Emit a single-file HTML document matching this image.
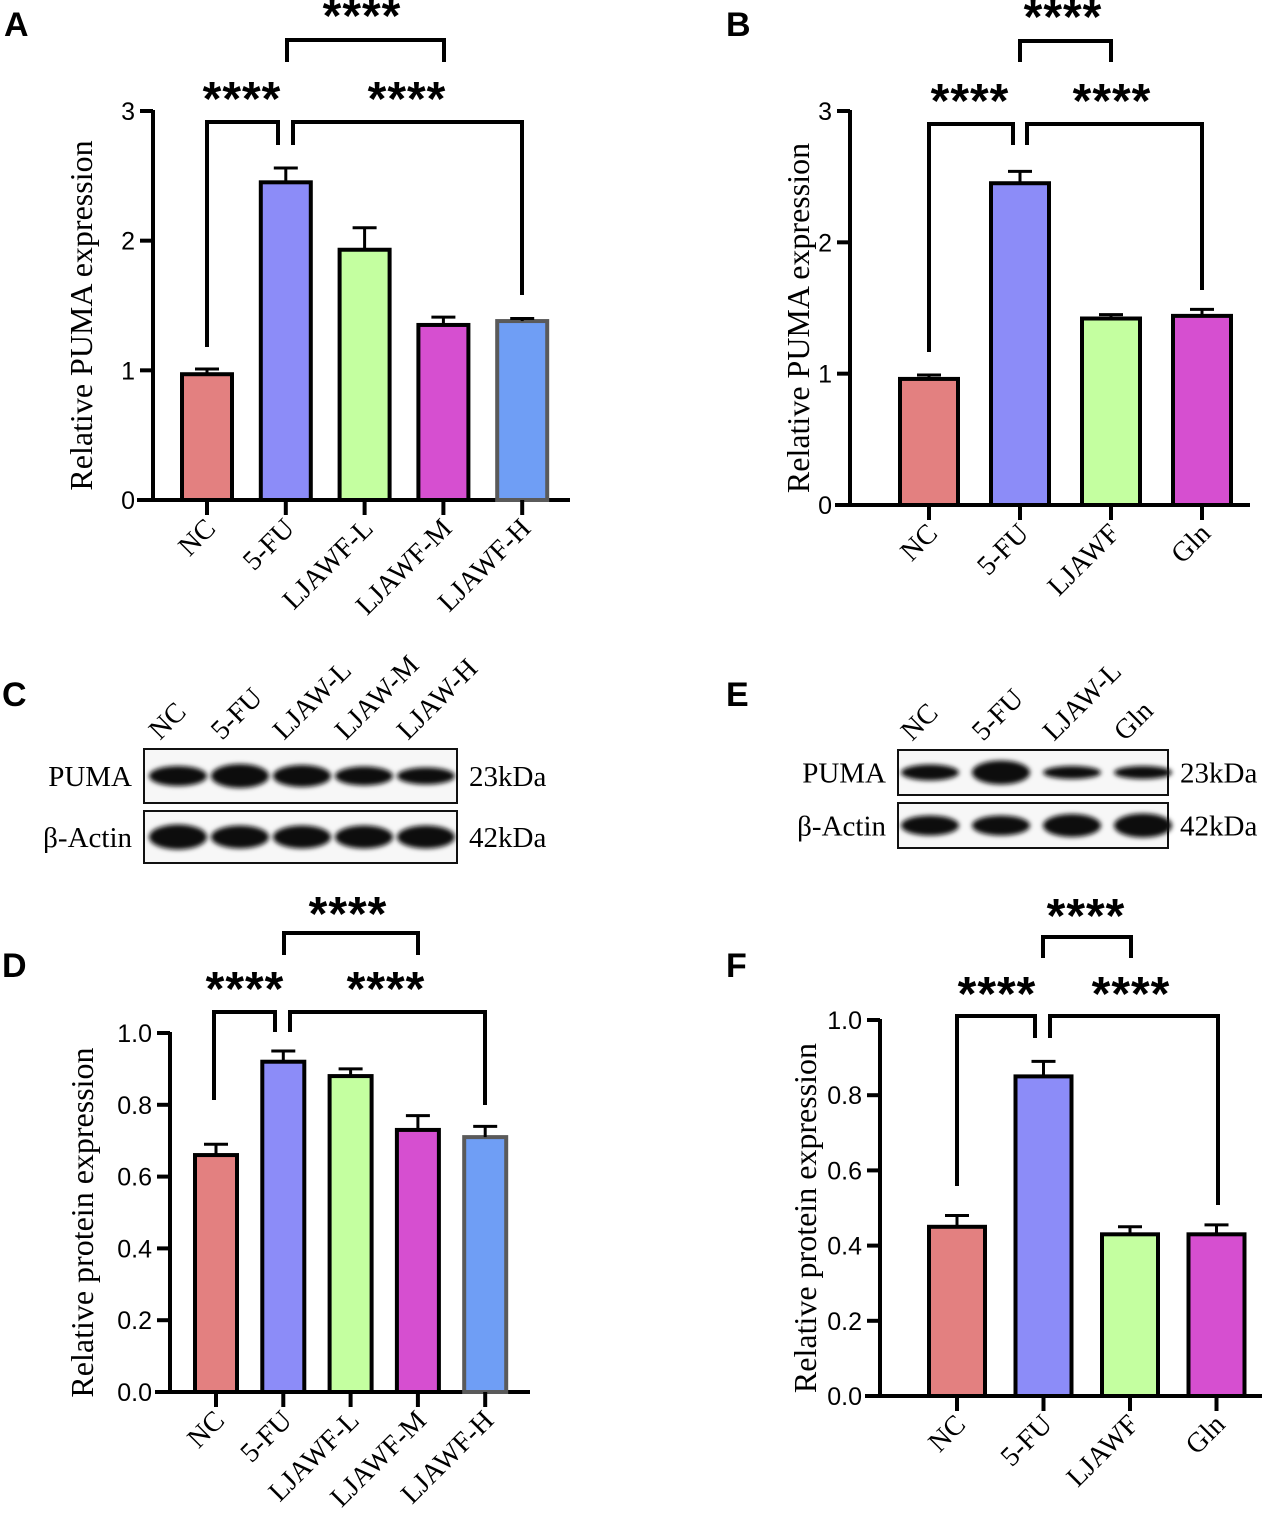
<!DOCTYPE html>
<html><head><meta charset="utf-8">
<style>
html,body{margin:0;padding:0;background:#fff;}
svg{display:block;}
.serif{font-family:"Liberation Serif",serif;}
.sans{font-family:"Liberation Sans",sans-serif;}
</style></head>
<body>
<svg id="fig" width="1280" height="1530" viewBox="0 0 1280 1530" xmlns="http://www.w3.org/2000/svg">
<defs>
<filter id="blur" x="-20%" y="-50%" width="140%" height="200%"><feGaussianBlur stdDeviation="2.5"/></filter>
</defs>
<text x="4" y="36" class="sans" font-size="34" font-weight="bold">A</text>
<text x="726" y="36" class="sans" font-size="34" font-weight="bold">B</text>
<text x="2" y="706" class="sans" font-size="34" font-weight="bold">C</text>
<text x="726" y="706" class="sans" font-size="34" font-weight="bold">E</text>
<text x="2" y="977" class="sans" font-size="34" font-weight="bold">D</text>
<text x="726" y="977" class="sans" font-size="34" font-weight="bold">F</text>
<g id="charts"></g>
<g id="blots"></g>
</svg>
<script>
// ---- Chart data ----
const catsA = ["NC","5-FU","LJAWF-L","LJAWF-M","LJAWF-H"];
const valsA = [0.97, 2.45, 1.93, 1.35, 1.38];
const errA  = [0.04, 0.11, 0.17, 0.06, 0.02];
const ticksA = [0,1,2,3];

const catsB = ["NC","5-FU","LJAWF","Gln"];
const valsB = [0.96, 2.45, 1.42, 1.44];
const errB  = [0.03, 0.09, 0.03, 0.05];
const ticksB = [0,1,2,3];

const catsD = ["NC","5-FU","LJAWF-L","LJAWF-M","LJAWF-H"];
const valsD = [0.66, 0.92, 0.88, 0.73, 0.71];
const errD  = [0.03, 0.03, 0.02, 0.04, 0.03];
const ticksD = ["0.0","0.2","0.4","0.6","0.8","1.0"];

const catsF = ["NC","5-FU","LJAWF","Gln"];
const valsF = [0.45, 0.85, 0.43, 0.43];
const errF  = [0.03, 0.04, 0.02, 0.025];
const ticksF = ["0.0","0.2","0.4","0.6","0.8","1.0"];

const NS = "http://www.w3.org/2000/svg";
const colors5 = ["#e38080","#8c8cf8","#c4ffa0","#d64fd0","#6f9ef5"];
const border5 = ["#000","#000","#000","#000","#5a5a5a"];

function mk(tag, attrs, parent){
  const e = document.createElementNS(NS, tag);
  for (const k in attrs) e.setAttribute(k, attrs[k]);
  parent.appendChild(e);
  return e;
}

function chart(o){
  const g = mk("g", {}, document.getElementById("charts"));
  
  
  const y = v => o.y0 - (v / o.max) * (o.y0 - o.yTop);
  const x = i => o.x0 + i * o.step;
  const ya = mk("line", {x1:o.ax, x2:o.ax, y1:o.yTop-1, y2:o.y0+2, stroke:"#000","stroke-width":4}, g);
  
  
  o.ticks.forEach(t => {
    const v = parseFloat(t);
    mk("line", {x1:o.ax-13, x2:o.ax, y1:y(v), y2:y(v), stroke:"#000","stroke-width":4}, g);
    const tx = mk("text", {x:o.ax-18, y:y(v)+9, "text-anchor":"end", "font-size":25, class:"sans"}, g);
    tx.textContent = t;
    
    
  });
  const xa = mk("line", {x1:o.xaL, x2:o.xaR, y1:o.y0, y2:o.y0, stroke:"#000","stroke-width":4}, g);
  
  
  const yt = mk("text", {x:0, y:0, "text-anchor":"middle", "font-size":32, class:"serif",
    transform:`translate(${o.titleX},${(o.y0+o.yTop)/2+10}) rotate(-90)`}, g);
  yt.textContent = o.title;
  
  
  o.cats.forEach((c, i) => {
    const cx = x(i);
    const top = y(o.vals[i]);
    const hw = o.bw / 2;
    const b = mk("rect", {x:cx-hw, y:top, width:o.bw, height:o.y0-top, fill:colors5[i], stroke:border5[i], "stroke-width":4}, g);
    
    
    const et = y(o.vals[i] + o.err[i]);
    mk("line", {x1:cx, x2:cx, y1:top, y2:et, stroke:"#000","stroke-width":3}, g);
    mk("line", {x1:cx-12, x2:cx+12, y1:et, y2:et, stroke:"#000","stroke-width":3}, g);
    mk("line", {x1:cx, x2:cx, y1:o.y0, y2:o.y0+15, stroke:"#000","stroke-width":4}, g);
    const lt = mk("text", {x:0, y:0, "text-anchor":"end", "font-size":28, class:"serif",
      transform:`translate(${cx+10},${o.y0+30}) rotate(-45)`}, g);
    lt.textContent = c;
    
    
  });
  o.brackets.forEach(bk => {
    const p = mk("path", {d:`M${bk[0]},${bk[3]} L${bk[0]},${bk[2]} L${bk[1]},${bk[2]} L${bk[1]},${bk[4]}`, fill:"none", stroke:"#000","stroke-width":4}, g);
    
    
    const s = mk("text", {x:bk[5], y:bk[6]+20, "text-anchor":"middle", "font-size":48, "font-weight":"bold", class:"sans", "letter-spacing":"1"}, g);
    s.textContent = "****";
    
    
  });
}

chart({name:"chart-a", cats:catsA, vals:valsA, err:errA, ticks:ticksA, max:3, ax:153, y0:500, yTop:111,
  xaL:137, xaR:570, x0:207, step:78.8, bw:50, titleX:92, title:"Relative PUMA expression",
  brackets:[[207,278,122,347,145,242,95],[293,522,122,145,295,407,95],[287,444,40,62,62,362,12]]});
chart({name:"chart-b", cats:catsB, vals:valsB, err:errB, ticks:ticksB, max:3, ax:850, y0:505, yTop:111,
  xaL:835, xaR:1250, x0:929, step:91, bw:58, titleX:809, title:"Relative PUMA expression",
  brackets:[[929,1013,124,352,145,970,97],[1027,1202,124,145,290,1112,97],[1020,1111,41,62,62,1063,13]]});
chart({name:"chart-d", cats:catsD, vals:valsD, err:errD, ticks:ticksD, max:1, ax:170, y0:1392, yTop:1033,
  xaL:155, xaR:530, x0:216, step:67.3, bw:42, titleX:93, title:"Relative protein expression",
  brackets:[[214,275,1012,1100,1032,245,985],[290,485,1012,1032,1105,386,985],[284,418,933,955,955,348,910]]});
chart({name:"chart-f", cats:catsF, vals:valsF, err:errF, ticks:ticksF, max:1, ax:880, y0:1396, yTop:1020,
  xaL:865, xaR:1262, x0:957, step:86.5, bw:56, titleX:816, title:"Relative protein expression",
  brackets:[[957,1035,1016,1186,1038,997,990],[1050,1218,1016,1038,1205,1131,990],[1043,1131,937,958,958,1086,912]]});

// ---- Blots ----
const blotLanesC = ["NC","5-FU","LJAW-L","LJAW-M","LJAW-H"];
const pumaC = [1.0, 1.2, 1.1, 0.95, 0.85];
const actinC = [1.25, 1.15, 1.15, 1.15, 1.15];
const blotLanesE = ["NC","5-FU","LJAW-L","Gln"];
const pumaE = [0.8, 1.2, 0.65, 0.65];
const actinE = [1.0, 1.0, 1.15, 1.2];

function blot(o){
  const g = mk("g", {}, document.getElementById("blots"));
  
  
  const rows = [["PUMA", o.puma, o.r1, "23kDa"], ["β-Actin", o.actin, o.r2, "42kDa"]];
  rows.forEach(r => {
    const [t, b] = r[2];
    const box = mk("rect", {x:o.x1, y:t, width:o.x2-o.x1, height:b-t, fill:"#f7f7f7", stroke:"#111","stroke-width":2}, g);
    
    
    const mid = (t+b)/2;
    r[1].forEach((h, i) => {
      const cx = o.lx0 + i*o.lstep;
      const e = mk("ellipse", {cx:cx, cy:mid, rx:o.bw/2, ry:10*h, fill:"#111", filter:"url(#blur)"}, g);
      
      
    });
    const lab = mk("text", {x:o.x1-12, y:mid+10, "text-anchor":"end", "font-size":29, class:"serif"}, g);
    lab.textContent = r[0];
    
    
    const kd = mk("text", {x:o.x2+12, y:mid+10, "font-size":29, class:"serif"}, g);
    kd.textContent = r[3];
    
    
  });
  o.lanes.forEach((l, i) => {
    const cx = o.lx0 + i*o.lstep;
    const tx = mk("text", {x:0, y:0, "font-size":28, class:"serif", transform:`translate(${cx-18},${o.r1[0]-8}) rotate(-45)`}, g);
    tx.textContent = l;
    
    
  });
}
blot({name:"blot-c", lanes:blotLanesC, puma:pumaC, actin:actinC, x1:144, x2:457, r1:[749,803], r2:[811,863], lx0:178, lstep:62, bw:58});
blot({name:"blot-e", lanes:blotLanesE, puma:pumaE, actin:actinE, x1:898, x2:1168, r1:[750,795], r2:[803,848], lx0:930, lstep:71, bw:58});
</script>
</body></html>
